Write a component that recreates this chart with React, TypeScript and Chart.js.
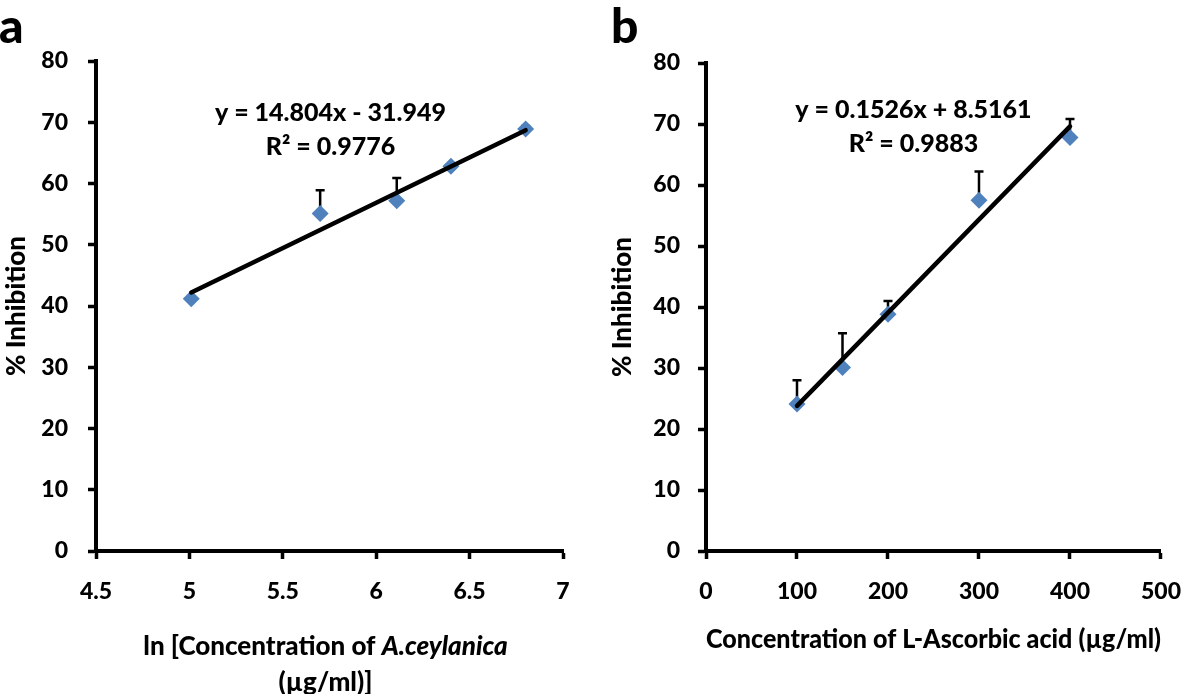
import React, { useEffect, useRef } from 'react';
import { Chart, registerables } from 'chart.js';
Chart.register(...registerables);

const FONT = 'Lato, "Open Sans", sans-serif';
const W = 900;
const BLUE = '#4F81BD';

// ---------- Panel a ----------
const aX = [5.01, 5.7, 6.11, 6.4, 6.8];
const aY = [41.2, 55.1, 57.2, 62.8, 68.9];
const aErr = [0, 3.8, 3.7, 0, 0.5];
const aTrendX = [5.01, 6.8];
const aTrendY = [42.2, 68.7];
const aXRange = [4.5, 7, 0.5];
const aEquation = ['y = 14.804x - 31.949', 'R\u00B2 = 0.9776'];
const aEqPos = [5.755, 70.2, 64.65];
const aTitleLine1 = ['ln [Concentration of ', 'A.ceylanica'];
const aTitleLine2 = '(\u00B5g/ml)]';

// ---------- Panel b ----------
const bX = [100, 150, 200, 300, 400];
const bY = [24.1, 30.1, 38.8, 57.5, 67.8];
const bErr = [3.9, 5.6, 2.2, 4.7, 3.0];
const bTrendX = [100, 400];
const bTrendY = [23.8, 69.6];
const bXRange = [0, 500, 100];
const bEquation = ['y = 0.1526x + 8.5161', 'R\u00B2 = 0.9883'];
const bEqPos = [228, 71.0, 65.4];
const bXTitle = 'Concentration of L-Ascorbic acid (\u00B5g/ml)';

const yRange = [0, 80, 10];
const yTitle = '% Inhibition';

function errorBarPlugin(xs: number[], ys: number[], errs: number[]) {
  return {
    id: 'errbars',
    beforeDatasetsDraw(chart: any) {
      const { ctx, scales } = chart;
      const x = scales.x, y = scales.y;
      ctx.save();
      ctx.strokeStyle = '#000';
      ctx.lineWidth = 2.5;
      xs.forEach((xv, i) => {
        if (!errs[i]) return;
        const px = x.getPixelForValue(xv);
        const py0 = y.getPixelForValue(ys[i]);
        const py1 = y.getPixelForValue(ys[i] + errs[i]);
        ctx.beginPath();
        ctx.moveTo(px, py0);
        ctx.lineTo(px, py1);
        ctx.moveTo(px - 4.5, py1);
        ctx.lineTo(px + 4.5, py1);
        ctx.stroke();
      });
      ctx.restore();
    },
  };
}

function textPlugin(letter: string, letterX: number, eq: string[], eqPos: number[], customTitle: boolean) {
  return {
    id: 'texts',
    afterDraw(chart: any) {
      const { ctx, scales, chartArea } = chart;
      ctx.save();
      ctx.fillStyle = '#000';
      ctx.textBaseline = 'alphabetic';
      ctx.textAlign = 'left';
      ctx.font = `${W} 48px ${FONT}`;
      ctx.fillText(letter, letterX, 43);
      ctx.textAlign = 'center';
      ctx.font = `${W} 25px ${FONT}`;
      const ex = scales.x.getPixelForValue(eqPos[0]);
      ctx.fillText(eq[0], ex, scales.y.getPixelForValue(eqPos[1]));
      ctx.fillText(eq[1], ex, scales.y.getPixelForValue(eqPos[2]));
      if (customTitle) {
        const cx = (chartArea.left + chartArea.right) / 2 - 4;
        ctx.font = `${W} 26px ${FONT}`;
        const w1 = ctx.measureText(aTitleLine1[0]).width;
        ctx.font = `italic ${W} 26px ${FONT}`;
        const w2 = ctx.measureText(aTitleLine1[1]).width;
        const start = cx - (w1 + w2) / 2;
        ctx.textAlign = 'left';
        ctx.font = `${W} 26px ${FONT}`;
        ctx.fillText(aTitleLine1[0], start, 655);
        ctx.font = `italic ${W} 26px ${FONT}`;
        ctx.fillText(aTitleLine1[1], start + w1, 655);
        ctx.textAlign = 'center';
        ctx.font = `${W} 26px ${FONT}`;
        ctx.fillText(aTitleLine2, cx, 691);
      }
      ctx.restore();
    },
  };
}

function makeConfig(opts: {
  xs: number[]; ys: number[]; errs: number[]; tx: number[]; ty: number[];
  xRange: number[]; yWidth: number; top: number; right: number;
  yTickPad: number; yTitlePad: number; xTitle: string | null;
  letter: string; letterX: number; eq: string[]; eqPos: number[];
}) {
  const tickFont = { family: FONT, size: 23, weight: W };
  const titleFont = { family: FONT, size: 26, weight: W };
  return {
    type: 'scatter' as const,
    data: {
      datasets: [
        {
          data: opts.tx.map((x, i) => ({ x, y: opts.ty[i] })),
          showLine: true,
          borderColor: '#000',
          borderWidth: 4.5,
          borderCapStyle: 'round',
          pointRadius: 0,
          pointHoverRadius: 0,
        },
        {
          data: opts.xs.map((x, i) => ({ x, y: opts.ys[i] })),
          pointStyle: 'rectRot',
          pointRadius: 8.5,
          pointHoverRadius: 8.5,
          backgroundColor: BLUE,
          borderColor: BLUE,
          borderWidth: 0,
        },
      ],
    },
    options: {
      animation: false,
      responsive: false,
      events: [],
      layout: { padding: { top: opts.top, right: opts.right, bottom: 0, left: 0 } },
      plugins: { legend: { display: false }, tooltip: { enabled: false } },
      scales: {
        x: {
          type: 'linear',
          min: opts.xRange[0],
          max: opts.xRange[1],
          afterFit: (s: any) => { s.height = 143; },
          ticks: {
            stepSize: opts.xRange[2], color: '#000', font: tickFont, padding: 19, maxRotation: 0,
            callback: (v: any) => String(Math.round(Number(v) * 100) / 100),
          },
          grid: { drawOnChartArea: false, drawTicks: true, tickLength: 8, tickWidth: 3.5, tickColor: '#000' },
          border: { display: true, color: '#000', width: 4 },
          title: opts.xTitle
            ? { display: true, text: opts.xTitle, color: '#000', font: titleFont, padding: { top: 0, bottom: 39 } }
            : { display: false },
        },
        y: {
          type: 'linear',
          min: yRange[0],
          max: yRange[1],
          afterFit: (s: any) => { s.width = opts.yWidth; },
          ticks: { stepSize: yRange[2], color: '#000', font: tickFont, padding: opts.yTickPad },
          grid: { drawOnChartArea: false, drawTicks: true, tickLength: 8, tickWidth: 3.5, tickColor: '#000' },
          border: { display: true, color: '#000', width: 4 },
          title: { display: true, text: yTitle, color: '#000', font: titleFont, padding: { top: opts.yTitlePad, bottom: 0 } },
        },
      },
    },
    plugins: [
      errorBarPlugin(opts.xs, opts.ys, opts.errs),
      textPlugin(opts.letter, opts.letterX, opts.eq, opts.eqPos, !opts.xTitle),
    ],
  };
}

export default function App() {
  const refA = useRef<HTMLCanvasElement>(null);
  const refB = useRef<HTMLCanvasElement>(null);

  useEffect(() => {
    let charts: Chart[] = [];
    let cancelled = false;
    const build = () => {
      if (cancelled || !refA.current || !refB.current) return;
      charts.push(
        new Chart(refA.current, makeConfig({
          xs: aX, ys: aY, errs: aErr, tx: aTrendX, ty: aTrendY, xRange: aXRange,
          yWidth: 96, top: 61, right: 37, yTickPad: 20, yTitlePad: 1, xTitle: null,
          letter: 'a', letterX: -1, eq: aEquation, eqPos: aEqPos,
        }) as any)
      );
      charts.push(
        new Chart(refB.current, makeConfig({
          xs: bX, ys: bY, errs: bErr, tx: bTrendX, ty: bTrendY, xRange: bXRange,
          yWidth: 106, top: 63, right: 19, yTickPad: 18, yTitlePad: 7, xTitle: bXTitle,
          letter: 'b', letterX: 11, eq: bEquation, eqPos: bEqPos,
        }) as any)
      );
    };
    const fonts = (document as any).fonts;
    if (fonts && fonts.load) {
      Promise.all([
        fonts.load(`${W} 23px Lato`),
        fonts.load(`italic ${W} 23px Lato`),
      ]).then(build, build);
    } else {
      build();
    }
    return () => {
      cancelled = true;
      charts.forEach((c) => c.destroy());
      charts = [];
    };
  }, []);

  return (
    <div style={{ position: 'absolute', left: 0, top: 0, width: 1200, height: 694, display: 'flex', background: '#fff' }}>
      <canvas ref={refA} width={600} height={694} style={{ display: 'block', width: 600, height: 694 }} />
      <canvas ref={refB} width={600} height={694} style={{ display: 'block', width: 600, height: 694 }} />
    </div>
  );
}
